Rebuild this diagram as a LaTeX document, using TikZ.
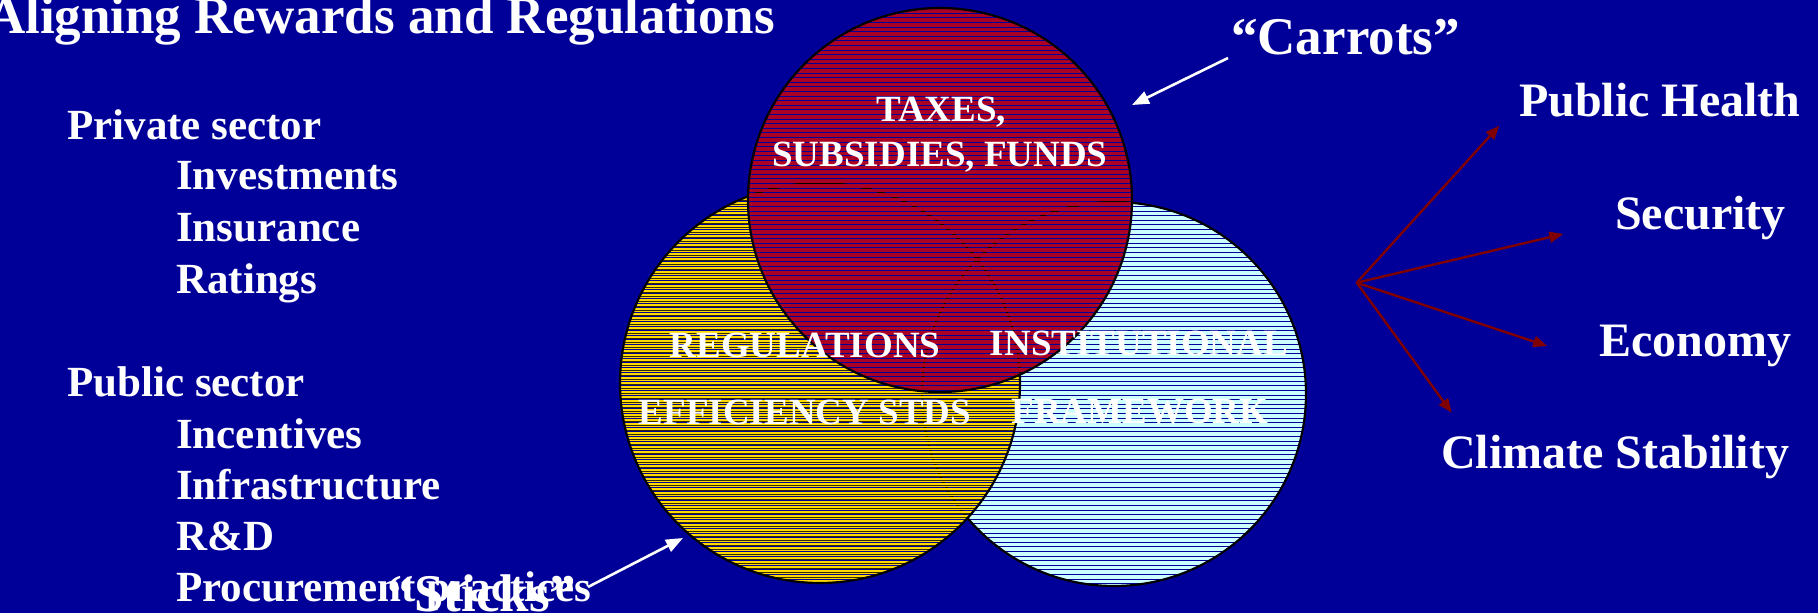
\documentclass[tikz,border=0pt]{standalone}
\usepackage{fontspec}
\setmainfont{Liberation Serif}
\usetikzlibrary{arrows.meta}
\definecolor{bgblue}{RGB}{0,0,153}
\definecolor{vennred}{RGB}{170,0,36}
\definecolor{vennyellow}{RGB}{255,217,0}
\definecolor{venncyan}{RGB}{204,255,255}
\definecolor{arrowred}{RGB}{128,0,0}
\tikzset{
  txt/.style={inner sep=0pt, text=white, font=\bfseries\fontsize{43}{51}\selectfont},
  ttl/.style={inner sep=0pt, text=white, font=\bfseries\fontsize{53}{60}\selectfont},
  rlab/.style={inner sep=0pt, text=white, font=\bfseries\fontsize{48}{56}\selectfont},
  vlab/.style={inner sep=0pt, text=white, font=\bfseries\fontsize{37}{44}\selectfont},
  outline/.style={draw=black, line width=2.2pt},
  warrow/.style={draw=white, line width=2.6pt, -{Triangle[length=17pt,width=13pt]}},
  rarrow/.style={draw=arrowred, line width=2.4pt, -{Triangle[length=14pt,width=11pt]}},
}
\begin{document}
\begin{tikzpicture}[x=1pt,y=-1pt]
\useasboundingbox (0,0) rectangle (1818,613);
\clip (0,0) rectangle (1818,613);
\fill[bgblue] (0,0) rectangle (1818,613);

% cyan circle
\coordinate (cC) at (1114,394);
\begin{scope}
  \clip (cC) circle [radius=192];
  \foreach \k in {42,...,129}
    \fill[venncyan] (900,{round(\k*4.6)}) rectangle (1320,{round((\k+1)*4.6)-1});
\end{scope}
\draw[outline] (cC) circle [radius=192];

% yellow circle
\coordinate (cY) at (820,383);
\begin{scope}
  \clip (cY) circle [radius=200];
  \foreach \k in {38,...,128}{
    \fill[vennyellow] (610,{round(\k*4.6)}) rectangle (1030,{round((\k+1)*4.6)-1});
    \fill[black!80!vennyellow] (610,{round(\k*4.6)+2}) rectangle (1030,{round(\k*4.6)+2.5});
  }
\end{scope}
\draw[outline] (cY) circle [radius=200];

% red circle
\coordinate (cR) at (940,200);
\begin{scope}
  \clip (cR) circle [radius=192];
  \foreach \k in {0,...,87}
    \fill[vennred] (740,{round(\k*4.6)}) rectangle (1140,{round((\k+1)*4.6)-1});
\end{scope}
\draw[outline] (cR) circle [radius=192];

% circle labels
\node[vlab, anchor=base] (taxes) at (941,121) {TAXES,};
\node[vlab, anchor=base] (subs) at (940,166) {SUBSIDIES, FUNDS};
\node[vlab, anchor=base] (regs) at (805,357) {REGULATIONS};
\node[vlab, anchor=base] (effs) at (805,424) {EFFICIENCY STDS};
\node[vlab, anchor=base] (inst) at (1139,355) {INSTITUTIONAL};
\node[vlab, anchor=base] (frame) at (1140,423) {FRAMEWORK};

% title
\node[ttl, anchor=base east] (title) at (775,33.3) {Aligning Rewards and Regulations};

% left list
\node[txt, anchor=base west] (priv) at (67,139.3) {Private sector};
\node[txt, anchor=base west] (inv) at (176,189.5) {Investments};
\node[txt, anchor=base west] (ins) at (176,241) {Insurance};
\node[txt, anchor=base west] (rat) at (176,293) {Ratings};
\node[txt, anchor=base west] (pub) at (67,396.5) {Public sector};
\node[txt, anchor=base west] (inc) at (176,448) {Incentives};
\node[txt, anchor=base west] (infra) at (176,499.5) {Infrastructure};
\node[txt, anchor=base west] (rd) at (176,550.5) {R\&D};
\node[txt, anchor=base west] (proc) at (176,601.5) {Procurement practices};

% carrots and sticks
\node[ttl, anchor=base west] (carrots) at (1231,54.3) {“Carrots”};
\node[ttl, anchor=base] (sticks) at (482,611) {“Sticks”};
\coordinate (carS) at (1228,58);
\coordinate (carT) at (1132,105);
\coordinate (stiS) at (588,587);
\coordinate (stiT) at (683,538);
\draw[warrow] (carS) -- (carT);
\draw[warrow] (stiS) -- (stiT);

% right labels
\node[rlab, anchor=base west] (ph) at (1519,116.7) {Public Health};
\node[rlab, anchor=base west] (sec) at (1615,229) {Security};
\node[rlab, anchor=base west] (eco) at (1599,356) {Economy};
\node[rlab, anchor=base west] (clim) at (1441,468.3) {Climate Stability};

\coordinate (hub) at (1356.7,282.7);
\coordinate (tPH) at (1499.3,125.7);
\coordinate (tSe) at (1563.3,234);
\coordinate (tEc) at (1547.3,346);
\coordinate (tCl) at (1451.7,412.7);
\draw[rarrow] (hub) -- (tPH);
\draw[rarrow] (hub) -- (tSe);
\draw[rarrow] (hub) -- (tEc);
\draw[rarrow] (hub) -- (tCl);
\end{tikzpicture}
\end{document}
